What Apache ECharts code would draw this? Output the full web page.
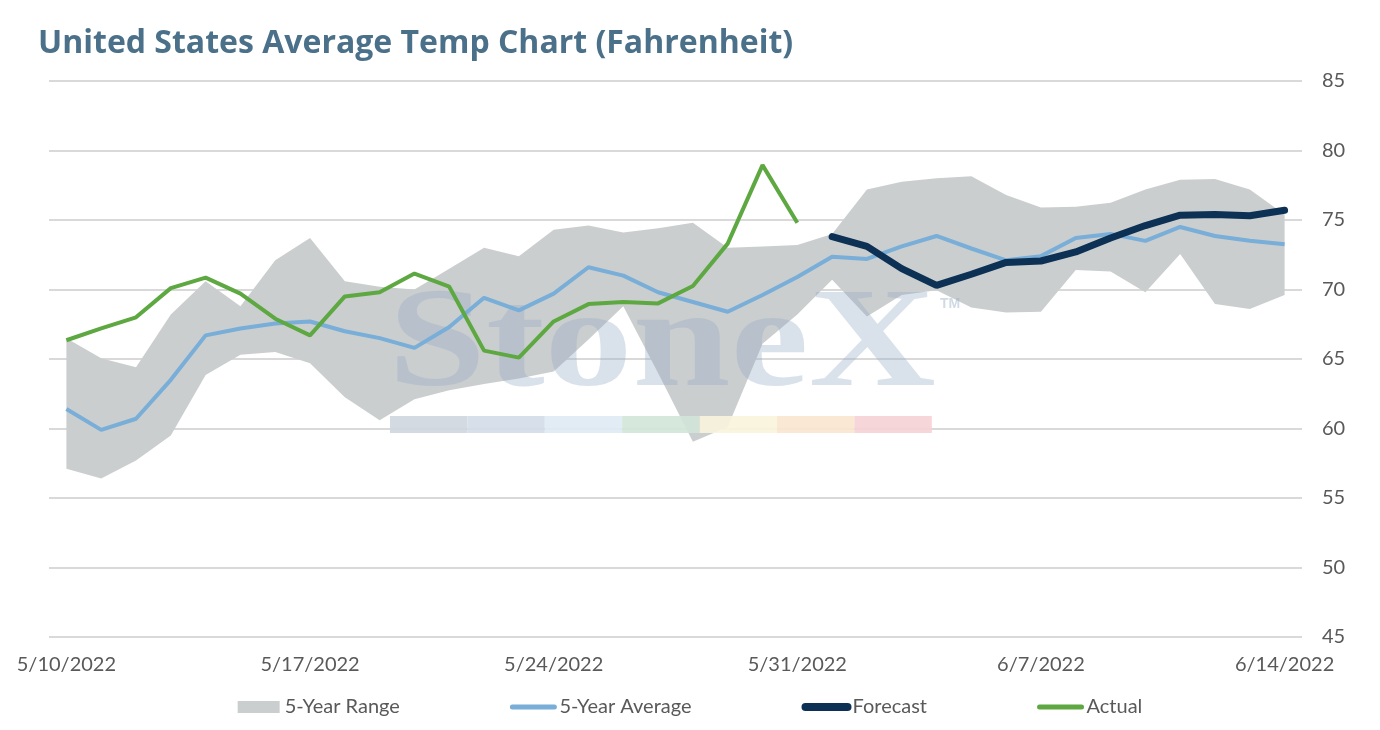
<!DOCTYPE html>
<html>
<head>
<meta charset="utf-8">
<script src="https://cdn.jsdelivr.net/npm/echarts@6/dist/echarts.min.js"></script>
<style>
html,body{margin:0;padding:0;background:#fff;}
#chart{width:1380px;height:730px;}
</style>
</head>
<body>
<div id="chart"></div>
<script>
const dates = ['5/10/2022','5/11/2022','5/12/2022','5/13/2022','5/14/2022','5/15/2022','5/16/2022','5/17/2022','5/18/2022','5/19/2022','5/20/2022','5/21/2022','5/22/2022','5/23/2022','5/24/2022','5/25/2022','5/26/2022','5/27/2022','5/28/2022','5/29/2022','5/30/2022','5/31/2022','6/1/2022','6/2/2022','6/3/2022','6/4/2022','6/5/2022','6/6/2022','6/7/2022','6/8/2022','6/9/2022','6/10/2022','6/11/2022','6/12/2022','6/13/2022','6/14/2022'];

const rangeHigh = [66.5,65.05,64.4,68.2,70.6,68.8,72.1,73.7,70.6,70.2,70.0,71.5,73.0,72.4,74.3,74.6,74.1,74.4,74.8,73.0,73.1,73.2,74.0,77.2,77.75,78.0,78.15,76.8,75.9,75.95,76.25,77.2,77.9,77.95,77.2,75.4];
const rangeLow = [57.1,56.4,57.7,59.5,63.85,65.3,65.5,64.7,62.25,60.6,62.1,62.75,63.2,63.6,64.1,66.4,68.8,64.0,59.05,60.1,66.1,68.2,70.7,68.05,69.6,69.95,68.7,68.35,68.4,71.4,71.3,69.8,72.55,68.95,68.6,69.6];
const avg5 = [61.4,59.9,60.7,63.5,66.7,67.2,67.55,67.7,67.0,66.5,65.8,67.3,69.4,68.5,69.7,71.6,71.0,69.8,69.1,68.4,69.6,70.9,72.35,72.2,73.1,73.85,72.95,72.1,72.4,73.7,74.0,73.5,74.5,73.85,73.5,73.25];
const forecast = [null,null,null,null,null,null,null,null,null,null,null,null,null,null,null,null,null,null,null,null,null,null,73.8,73.1,71.5,70.3,71.1,71.95,72.05,72.7,73.7,74.6,75.35,75.4,75.3,75.7];
const actual = [66.35,67.2,68.0,70.1,70.85,69.7,67.9,66.7,69.5,69.8,71.15,70.2,65.6,65.1,67.7,68.95,69.1,69.0,70.25,73.3,78.95,74.8,null,null,null,null,null,null,null,null,null,null,null,null,null,null];
const yTicks = [45,50,55,60,65,70,75,80,85];

const rangeSpan = rangeHigh.map((h,i)=> +(h - rangeLow[i]).toFixed(2));

const chart = echarts.init(document.getElementById('chart'));
const FONT = 'Lato';
const barColors = ['#cfd6df','#d3dde8','#dfeaf3','#d2e4d8','#f8f4dc','#f9e5cf','#f5d2d4'];
const wm = [];
wm.push({type:'text', z:3, left:388, top:277, style:{text:'StoneX', font:'bold 142px "Liberation Serif"', fill:'rgba(150,172,196,0.36)'}, scaleX:1.24});
wm.push({type:'text', z:3, left:940, top:297, style:{text:'TM', font:'bold 14px "Liberation Sans"', fill:'rgba(150,172,196,0.45)'}});
barColors.forEach((c,i)=>{
  wm.push({type:'rect', z:3, shape:{x:390+i*77.4, y:416, width:77.4, height:17}, style:{fill:c, opacity:0.9}});
});

chart.setOption({
  animation:false,
  backgroundColor:'#fff',
  title:{text:'United States Average Temp Chart (Fahrenheit)', left:33, top:23,
    textStyle:{fontFamily:'Open Sans', fontSize:32, fontWeight:'bold', color:'#4b7089'}},
  graphic: wm,
  grid:{left:49, right:78, top:81, bottom:93},
  legend:{
    bottom:8, left:'center', itemGap:110, itemWidth:42, itemHeight:12,
    textStyle:{fontFamily:FONT, fontSize:20, color:'#595959'},
    data:[
      {name:'5-Year Range', icon:'rect'},
      {name:'5-Year Average', itemStyle:{opacity:0}, lineStyle:{width:5, cap:'round'}},
      {name:'Forecast', itemStyle:{opacity:0}, lineStyle:{width:8, cap:'round'}},
      {name:'Actual', itemStyle:{opacity:0}, lineStyle:{width:5, cap:'round'}}
    ]
  },
  xAxis:{
    type:'category', data:dates, boundaryGap:true,
    axisLine:{show:false}, axisTick:{show:false},
    axisLabel:{interval:6, margin:18, fontFamily:FONT, fontSize:20, color:'#595959'}
  },
  yAxis:{
    type:'value', position:'right', min:45, max:85, interval:5,
    axisLine:{show:false}, axisTick:{show:false},
    axisLabel:{margin:20, fontFamily:FONT, fontSize:20, color:'#595959'},
    splitLine:{lineStyle:{color:'#d9d9d9', width:2}}
  },
  series:[
    {name:'rangeBase', type:'line', stack:'range', data:rangeLow, symbol:'none',
      lineStyle:{opacity:0, width:0}, silent:true, z:2},
    {name:'5-Year Range', type:'line', stack:'range', data:rangeSpan, symbol:'none',
      itemStyle:{color:'#cbcecf'},
      lineStyle:{width:0, opacity:0}, areaStyle:{color:'#cbcecf', opacity:1}, z:2},
    {name:'5-Year Average', type:'line', data:avg5, symbol:'none',
      itemStyle:{color:'#78aed8'}, lineStyle:{color:'#78aed8', width:4}, z:5},
    {name:'Forecast', type:'line', data:forecast, symbol:'none',
      itemStyle:{color:'#0c3155'}, lineStyle:{color:'#0c3155', width:7, cap:'round'}, z:6},
    {name:'Actual', type:'line', data:actual, symbol:'none',
      itemStyle:{color:'#5ea842'}, lineStyle:{color:'#5ea842', width:4}, z:7}
  ]
});
</script>
</body>
</html>
